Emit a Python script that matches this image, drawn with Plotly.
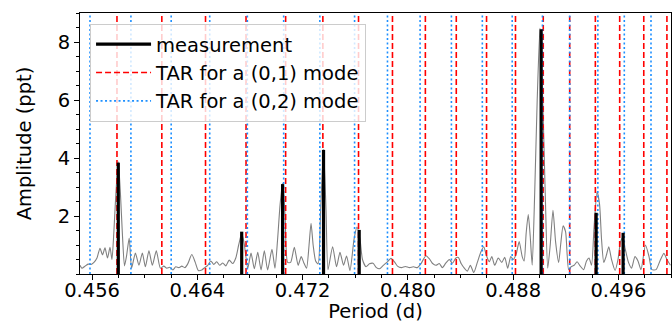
import plotly.graph_objects as go

# ---- data ----
# grey amplitude spectrum (period in d, amplitude in ppt)
spec_period = [
    0.45508, 0.45523, 0.45546, 0.45569, 0.45592, 0.45614, 0.45637, 0.45660, 0.45679, 0.45698,
    0.45717, 0.45736, 0.45751, 0.45766, 0.45781, 0.45799, 0.45815, 0.45830, 0.45846, 0.45861,
    0.45882, 0.45900, 0.45929, 0.45956, 0.45982, 0.46005, 0.46032, 0.46058, 0.46088, 0.46119,
    0.46145, 0.46168, 0.46191, 0.46214, 0.46236, 0.46259, 0.46282, 0.46305, 0.46327, 0.46358,
    0.46384, 0.46407, 0.46434, 0.46456, 0.46479, 0.46502, 0.46525, 0.46547, 0.46570, 0.46593,
    0.46616, 0.46642, 0.46669, 0.46692, 0.46714, 0.46737, 0.46756, 0.46783, 0.46808, 0.46833,
    0.46859, 0.46884, 0.46909, 0.46934, 0.46967, 0.46990, 0.47010, 0.47029, 0.47048, 0.47067,
    0.47086, 0.47109, 0.47137, 0.47166, 0.47189, 0.47208, 0.47230, 0.47249, 0.47264, 0.47280,
    0.47299, 0.47318, 0.47337, 0.47359, 0.47378, 0.47393, 0.47428, 0.47458, 0.47484, 0.47511,
    0.47534, 0.47560, 0.47591, 0.47613, 0.47636, 0.47655, 0.47682, 0.47708, 0.47735, 0.47761,
    0.47784, 0.47814, 0.47845, 0.47871, 0.47898, 0.47921, 0.47951, 0.47981, 0.48012, 0.48042,
    0.48072, 0.48099, 0.48137, 0.48164, 0.48186, 0.48213, 0.48239, 0.48262, 0.48289, 0.48315,
    0.48338, 0.48365, 0.48384, 0.48406, 0.48429, 0.48452, 0.48475, 0.48501, 0.48528, 0.48554,
    0.48577, 0.48596, 0.48619, 0.48638, 0.48660, 0.48687, 0.48714, 0.48736, 0.48759, 0.48782,
    0.48801, 0.48824, 0.48846, 0.48869, 0.48884, 0.48899, 0.48915, 0.48930, 0.48945, 0.48964,
    0.48983, 0.49004, 0.49025, 0.49044, 0.49063, 0.49082, 0.49103, 0.49123, 0.49146, 0.49161,
    0.49180, 0.49199, 0.49222, 0.49241, 0.49264, 0.49286, 0.49309, 0.49336, 0.49358, 0.49377,
    0.49396, 0.49415, 0.49438, 0.49457, 0.49472, 0.49489, 0.49506, 0.49527, 0.49548, 0.49575,
    0.49597, 0.49616, 0.49632, 0.49650, 0.49677, 0.49700, 0.49726, 0.49749, 0.49772, 0.49806,
    0.49833, 0.49855, 0.49886, 0.49916, 0.49946, 0.49969, 0.49996,
]
spec_amp = [
    0.30, 0.20, 0.27, 0.34, 0.33, 0.40, 0.55, 0.89, 0.66, 0.90,
    0.55, 0.92, 0.50, 1.50, 2.80, 3.87, 2.80, 1.40, 0.28, 0.60,
    1.24, 0.20, 0.72, 0.30, 0.72, 0.25, 0.80, 0.30, 0.80, 0.20,
    0.27, 0.20, 0.23, 0.14, 0.25, 0.22, 0.27, 0.22, 0.35, 0.67,
    0.40, 0.12, 0.14, 0.22, 0.30, 0.45, 0.33, 0.42, 0.30, 0.38,
    0.28, 0.48, 0.36, 0.55, 1.00, 1.40, 1.05, 0.20, 0.72, 0.18,
    0.75, 0.14, 0.80, 0.14, 0.85, 0.20, 1.20, 2.40, 3.13, 2.00,
    0.40, 0.40, 0.92, 0.30, 0.60, 0.40, 0.20, 1.00, 1.75, 1.00,
    0.45, 0.35, 2.20, 4.30, 2.20, 0.15, 0.94, 0.25, 0.75, 0.30,
    0.62, 0.12, 1.20, 1.62, 1.20, 0.50, 0.25, 0.35, 0.37, 0.22,
    0.18, 0.30, 0.42, 0.54, 0.42, 0.27, 0.22, 0.26, 0.22, 0.25,
    0.22, 0.35, 0.63, 0.52, 0.37, 0.30, 0.36, 0.22, 0.38, 0.50,
    0.37, 0.55, 0.57, 0.35, 0.20, 0.10, 0.30, 0.05, 0.40, 0.75,
    0.94, 0.65, 0.42, 0.60, 0.30, 0.55, 0.40, 0.58, 0.20, 0.60,
    0.50, 0.70, 1.12, 0.60, 0.45, 1.40, 2.05, 1.30, 0.30, 2.80,
    6.00, 8.47, 6.00, 2.80, 0.20, 1.00, 2.20, 1.10, 0.40, 1.00,
    1.66, 1.45, 0.15, 0.25, 0.30, 0.42, 0.28, 0.15, 0.45, 0.55,
    0.30, 1.60, 2.84, 2.40, 1.20, 0.40, 0.60, 0.94, 0.50, 0.12,
    0.50, 1.10, 1.25, 0.90, 0.40, 0.20, 0.60, 0.45, 0.15, 1.00,
    0.60, 0.15, 0.15, 0.45, 0.71, 0.50, 0.30,
]

# measured (prewhitened) frequencies
meas_period = [0.45799, 0.46737, 0.47048, 0.47359, 0.47630, 0.49013, 0.49431, 0.49636]
meas_amp = [3.84, 1.46, 3.10, 4.28, 1.52, 8.44, 2.11, 1.42]

# TAR model periods
tar01_period = [0.45789, 0.46130, 0.46462, 0.46770, 0.47071, 0.47354, 0.47625, 0.47883,
                0.48133, 0.48368, 0.48598, 0.48818, 0.49029, 0.49230, 0.49425, 0.49610,
                0.49793, 0.49969]
tar02_period = [0.45584, 0.45895, 0.46201, 0.46494, 0.46780, 0.47056, 0.47331, 0.47595,
                0.47845, 0.48093, 0.48331, 0.48566, 0.48793, 0.49023, 0.49230, 0.49444,
                0.49645, 0.49848]

x_range = [0.45508, 0.50000]
y_range = [0.0, 9.0]
x_ticks = [0.456, 0.464, 0.472, 0.480, 0.488, 0.496]
y_ticks = [2, 4, 6, 8]


def vsegments(xs, tops, bottom=0.0):
    X, Y = [], []
    for x, t in zip(xs, tops):
        X += [x, x, None]
        Y += [bottom, t, None]
    return X, Y


fig = go.Figure()

fig.add_trace(go.Scatter(
    x=spec_period, y=spec_amp, mode="lines",
    line=dict(color="#808080", width=1.1, shape="spline", smoothing=0.6),
    showlegend=False, hoverinfo="skip"))

rx, ry = vsegments(tar01_period, [y_range[1]] * len(tar01_period))
fig.add_trace(go.Scatter(
    x=rx, y=ry, mode="lines", name="TAR for a (0,1) mode",
    line=dict(color="red", width=1.6, dash="6px,3px"), legendrank=2))

bx, by = vsegments(tar02_period, [y_range[1]] * len(tar02_period))
fig.add_trace(go.Scatter(
    x=bx, y=by, mode="lines", name="TAR for a (0,2) mode",
    line=dict(color="#1E90FF", width=1.6, dash="2px,2.5px"), legendrank=3))

mx, my = vsegments(meas_period, meas_amp)
fig.add_trace(go.Scatter(
    x=mx, y=my, mode="lines", name="measurement",
    line=dict(color="black", width=3.2), legendrank=1))

font = dict(family="DejaVu Sans", size=19.5, color="black")

fig.update_layout(
    width=672, height=323,
    margin=dict(l=80, r=1, t=13, b=49),
    paper_bgcolor="white", plot_bgcolor="white",
    font=font,
    showlegend=True,
    legend=dict(
        x=0.017, y=0.958, xanchor="left", yanchor="top",
        bgcolor="rgba(255,255,255,0.8)", bordercolor="#cccccc", borderwidth=1,
        font=font,
        traceorder="normal", itemwidth=55, tracegroupgap=0,
    ),
    xaxis=dict(
        range=x_range, tickvals=x_ticks, tickformat=".3f",
        ticks="outside", ticklen=5, tickwidth=1, tickcolor="black",
        showline=True, linecolor="black", linewidth=1, mirror=True,
        showgrid=False, zeroline=False,
        minor=dict(dtick=0.002, tick0=0.456, ticks="outside", ticklen=3, tickcolor="black", showgrid=False),
        title=dict(text="Period (d)", standoff=0, font=font),
        tickfont=font, ticklabelstandoff=-6,
    ),
    yaxis=dict(
        range=y_range, tickvals=y_ticks,
        ticks="outside", ticklen=5, tickwidth=1, tickcolor="black",
        showline=True, linecolor="black", linewidth=1, mirror=True,
        showgrid=False, zeroline=False,
        minor=dict(dtick=0.5, tick0=0, ticks="outside", ticklen=3, tickcolor="black", showgrid=False),
        title=dict(text="Amplitude (ppt)", standoff=20, font=font),
        tickfont=font,
    ),
)

fig.write_html(
    "out.html",
    config={"displayModeBar": False},
    post_script="document.body.style.margin='0';document.body.style.overflow='hidden';",
)
